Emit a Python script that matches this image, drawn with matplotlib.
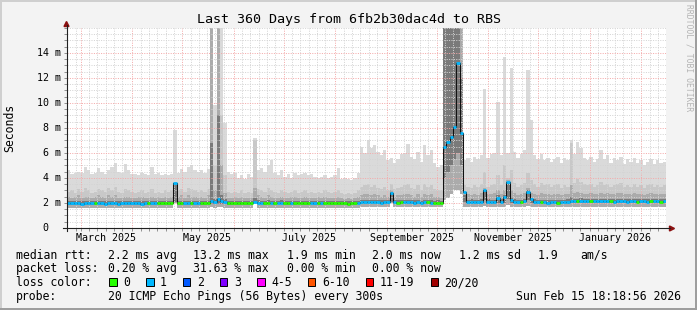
import matplotlib
matplotlib.use("Agg")
import matplotlib.pyplot as plt
import matplotlib.dates as mdates
import matplotlib.transforms as mtransforms
from matplotlib.patches import Rectangle, Polygon
from matplotlib.lines import Line2D
from datetime import datetime, timedelta
import numpy as np

# ---------------- data (ms), 180 bins of 2 days ----------------
start = datetime(2025, 2, 20, 18, 18, 56)
end = datetime(2026, 2, 15, 18, 18, 56)
bin_days = 2

# outer (lightest) smoke envelope top
top = [4.6, 4.3, 4.4, 4.5, 4.4, 4.9, 4.6, 4.3, 4.4, 4.8,
       4.5, 4.3, 4.6, 4.9, 5.2, 4.5, 4.4, 5.1, 4.6, 4.3,
       4.3, 4.2, 4.4, 4.3, 4.2, 4.9, 4.3, 4.4, 4.2, 4.3,
       4.2, 4.3, 7.8, 4.4, 4.7, 4.5, 4.9, 5.0, 4.6, 4.5,
       4.6, 4.4, 4.7, 17.0, 9.8, 17.0, 17.0, 8.4, 4.5, 4.3,
       4.4, 4.0, 4.2, 3.9, 4.3, 4.1, 7.2, 4.6, 4.8, 4.5,
       5.0, 5.4, 4.4, 4.2, 4.6, 4.1, 4.3, 4.0, 4.4, 4.2,
       4.3, 4.4, 4.2, 4.3, 4.1, 4.0, 4.1, 4.2, 4.0, 4.1,
       4.2, 4.8, 3.9, 4.0, 3.9, 3.8, 4.0, 4.4, 6.5, 6.0,
       7.0, 6.4, 6.6, 6.1, 5.8, 6.2, 5.4, 5.6, 5.2, 5.5,
       5.9, 6.0, 6.7, 5.7, 5.5, 6.1, 5.3, 6.6, 5.8, 6.2,
       5.2, 4.9, 5.0, 17.0, 17.0, 17.0, 17.0, 17.0, 17.0, 5.4,
       5.6, 5.3, 5.7, 5.5, 5.8, 11.1, 5.6, 5.9, 6.0, 10.1,
       5.8, 13.7, 6.0, 12.8, 6.1, 5.6, 5.9, 6.2, 12.6, 8.6,
       5.8, 5.5, 5.9, 5.4, 5.6, 5.3, 5.5, 5.7, 5.2, 5.6,
       5.4, 7.0, 5.9, 6.9, 6.4, 5.6, 5.4, 5.7, 5.3, 5.5,
       6.2, 5.5, 5.8, 5.2, 5.6, 5.4, 5.7, 5.1, 5.5, 5.3,
       5.6, 5.2, 5.4, 5.0, 5.3, 5.5, 5.1, 5.4, 5.2, 5.3]

# second smoke envelope
hi2 = [2.9, 3.0, 2.8, 3.1, 2.9, 3.2, 3.0, 2.8, 2.9, 3.1,
       3.0, 2.9, 3.2, 3.0, 3.3, 2.9, 2.8, 3.1, 3.0, 2.9,
       2.8, 2.9, 3.0, 2.8, 2.9, 3.1, 2.8, 2.9, 2.8, 3.0,
       2.9, 3.0, 3.7, 3.0, 3.1, 2.9, 3.2, 3.1, 3.0, 2.9,
       3.0, 2.9, 3.1, 17.0, 5.0, 17.0, 9.0, 4.2, 2.9, 2.8,
       2.9, 2.8, 3.0, 2.8, 2.9, 2.8, 7.0, 3.1, 3.0, 2.9,
       3.2, 3.0, 2.9, 2.8, 3.0, 2.9, 2.8, 2.9, 3.0, 2.8,
       2.9, 3.0, 2.8, 2.9, 2.8, 2.9, 2.8, 3.0, 2.9, 2.8,
       2.9, 3.0, 2.8, 2.7, 2.8, 2.7, 2.8, 3.0, 3.3, 3.4,
       3.5, 3.3, 3.4, 3.2, 3.1, 3.3, 3.0, 3.5, 3.1, 3.2,
       3.3, 3.4, 3.5, 3.2, 3.1, 3.4, 3.0, 3.5, 3.3, 3.4,
       3.1, 3.0, 3.0, 17.0, 17.0, 17.0, 17.0, 17.0, 17.0, 3.4,
       3.3, 3.2, 3.4, 3.3, 3.5, 4.5, 3.3, 3.4, 3.5, 4.2,
       3.4, 5.0, 4.0, 4.6, 3.6, 3.3, 3.4, 3.6, 4.4, 3.8,
       3.5, 3.3, 3.6, 3.4, 3.5, 3.3, 3.4, 3.5, 3.2, 3.4,
       3.3, 6.8, 3.6, 3.9, 3.7, 3.5, 3.4, 3.5, 3.3, 3.4,
       3.7, 3.4, 3.5, 3.3, 3.4, 3.5, 3.6, 3.3, 3.4, 3.3,
       3.5, 3.3, 3.4, 3.2, 3.4, 3.5, 3.3, 3.4, 3.3, 3.4]

# third smoke envelope
hi3 = [2.5, 2.4, 2.5, 2.6, 2.4, 2.5, 2.5, 2.4, 2.5, 2.6,
       2.5, 2.4, 2.6, 2.5, 2.6, 2.4, 2.4, 2.5, 2.5, 2.4,
       2.4, 2.5, 2.5, 2.4, 2.4, 2.5, 2.4, 2.5, 2.4, 2.5,
       2.4, 2.5, 3.6, 2.5, 2.6, 2.4, 2.6, 2.5, 2.5, 2.4,
       2.5, 2.4, 2.6, 17.0, 3.0, 17.0, 5.0, 2.8, 2.4, 2.4,
       2.5, 2.4, 2.5, 2.4, 2.4, 2.4, 3.2, 2.6, 2.5, 2.4,
       2.6, 2.5, 2.4, 2.4, 2.5, 2.4, 2.4, 2.5, 2.5, 2.4,
       2.4, 2.5, 2.4, 2.4, 2.4, 2.5, 2.4, 2.5, 2.4, 2.4,
       2.4, 2.5, 2.4, 2.3, 2.4, 2.3, 2.4, 2.5, 2.6, 2.7,
       2.7, 2.6, 2.7, 2.6, 2.5, 2.6, 2.5, 3.0, 2.5, 2.6,
       2.6, 2.7, 2.7, 2.6, 2.5, 2.7, 2.5, 2.7, 2.6, 2.7,
       2.5, 2.5, 2.4, 17.0, 17.0, 17.0, 17.0, 17.0, 17.0, 2.8,
       2.7, 2.6, 2.7, 2.6, 2.8, 3.2, 2.7, 2.7, 2.8, 3.0,
       2.7, 3.0, 3.8, 3.0, 2.8, 2.6, 2.7, 2.8, 3.2, 2.8,
       2.7, 2.6, 2.8, 2.7, 2.7, 2.6, 2.7, 2.7, 2.6, 2.7,
       2.7, 3.4, 2.8, 2.9, 2.8, 2.7, 2.7, 2.8, 2.7, 2.7,
       2.8, 2.7, 2.8, 2.7, 2.7, 2.8, 2.8, 2.7, 2.7, 2.7,
       2.8, 2.7, 2.7, 2.6, 2.7, 2.8, 2.7, 2.7, 2.7, 2.7]

# innermost (dark) smoke top
hi4 = [2.15, 2.12, 2.15, 2.18, 2.12, 2.15, 2.16, 2.12, 2.14, 2.17,
       2.15, 2.12, 2.17, 2.15, 2.18, 2.12, 2.13, 2.16, 2.15, 2.13,
       2.14, 2.15, 2.13, 2.12, 2.14, 2.15, 2.16, 2.15, 2.13, 2.14,
       2.15, 2.16, 3.6, 2.14, 2.16, 2.13, 2.15, 2.16, 2.15, 2.14,
       2.15, 2.14, 2.17, 6.8, 2.3, 9.0, 2.6, 2.3, 2.15, 2.14,
       2.13, 2.14, 2.15, 2.13, 2.14, 2.16, 2.4, 2.2, 2.18, 2.15,
       2.2, 2.18, 2.16, 2.18, 2.2, 2.16, 2.15, 2.14, 2.16, 2.17,
       2.15, 2.14, 2.16, 2.17, 2.15, 2.14, 2.13, 2.15, 2.17, 2.16,
       2.14, 2.15, 2.13, 2.14, 2.12, 2.13, 2.14, 2.17, 2.22, 2.25,
       2.24, 2.22, 2.25, 2.22, 2.2, 2.23, 2.21, 2.9, 2.22, 2.2,
       2.22, 2.24, 2.21, 2.23, 2.2, 2.22, 2.19, 2.21, 2.23, 2.2,
       2.19, 2.2, 2.17, 17.0, 17.0, 17.0, 17.0, 17.0, 12.0, 2.6,
       2.25, 2.28, 2.24, 2.26, 2.3, 3.0, 2.28, 2.25, 2.27, 2.6,
       2.3, 2.6, 3.7, 2.5, 2.3, 2.25, 2.27, 2.32, 3.0, 2.4,
       2.28, 2.25, 2.24, 2.26, 2.23, 2.25, 2.24, 2.22, 2.26, 2.25,
       2.28, 2.5, 2.35, 2.33, 2.36, 2.34, 2.35, 2.33, 2.32, 2.34,
       2.33, 2.35, 2.32, 2.34, 2.3, 2.33, 2.32, 2.34, 2.3, 2.32,
       2.33, 2.31, 2.34, 2.32, 2.3, 2.32, 2.34, 2.33, 2.31, 2.32]

# median rtt
med = [1.97, 1.96, 1.98, 1.97, 1.95, 1.98, 1.99, 1.96, 1.97, 1.98,
       1.96, 1.95, 1.97, 1.99, 1.96, 1.95, 1.97, 1.98, 1.96, 1.97,
       1.98, 1.97, 1.95, 1.96, 1.98, 1.97, 1.99, 1.98, 1.96, 1.97,
       1.98, 1.99, 3.6, 1.97, 1.98, 1.96, 1.97, 1.99, 1.98, 1.97,
       1.98, 1.97, 1.99, 2.15, 2.05, 2.3, 2.15, 2.05, 1.98, 1.97,
       1.96, 1.97, 1.98, 1.96, 1.97, 1.99, 2.1, 2.03, 2.0, 1.98,
       2.02, 2.0, 1.99, 2.01, 2.03, 1.99, 1.98, 1.97, 1.99, 2.0,
       1.98, 1.97, 1.99, 2.0, 1.98, 1.97, 1.96, 1.98, 2.0, 1.99,
       1.97, 1.98, 1.96, 1.97, 1.95, 1.96, 1.97, 2.0, 2.05, 2.08,
       2.06, 2.04, 2.08, 2.05, 2.03, 2.06, 2.04, 2.8, 2.05, 2.03,
       2.05, 2.07, 2.04, 2.06, 2.03, 2.05, 2.02, 2.04, 2.06, 2.03,
       2.02, 2.03, 2.0, 6.5, 6.9, 7.3, 8.1, 13.2, 7.6, 2.9,
       2.05, 2.08, 2.04, 2.06, 2.1, 3.0, 2.08, 2.05, 2.07, 2.4,
       2.1, 2.5, 3.7, 2.2, 2.1, 2.05, 2.07, 2.12, 2.9, 2.3,
       2.08, 2.05, 2.04, 2.06, 2.03, 2.05, 2.04, 2.02, 2.06, 2.05,
       2.08, 2.12, 2.15, 2.13, 2.16, 2.14, 2.15, 2.13, 2.12, 2.14,
       2.13, 2.15, 2.12, 2.14, 2.1, 2.13, 2.12, 2.14, 2.1, 2.12,
       2.13, 2.11, 2.14, 2.12, 2.1, 2.12, 2.14, 2.13, 2.11, 2.12]

# inner (dark) smoke bottom
lo_in = [1.85, 1.84, 1.86, 1.85, 1.83, 1.86, 1.87, 1.84, 1.85, 1.86,
         1.84, 1.83, 1.85, 1.87, 1.84, 1.83, 1.85, 1.86, 1.84, 1.85,
         1.86, 1.85, 1.83, 1.84, 1.86, 1.85, 1.87, 1.86, 1.84, 1.85,
         1.86, 1.87, 2.05, 1.85, 1.86, 1.84, 1.85, 1.87, 1.86, 1.85,
         1.86, 1.85, 1.87, 1.9, 1.88, 1.95, 1.9, 1.88, 1.86, 1.85,
         1.84, 1.85, 1.86, 1.84, 1.85, 1.87, 2.05, 1.9, 1.88, 1.86,
         1.9, 1.88, 1.87, 1.89, 1.9, 1.87, 1.86, 1.85, 1.87, 1.88,
         1.86, 1.85, 1.87, 1.88, 1.86, 1.85, 1.84, 1.86, 1.88, 1.87,
         1.85, 1.86, 1.84, 1.85, 1.83, 1.84, 1.85, 1.88, 1.92, 1.95,
         1.93, 1.92, 1.95, 1.92, 1.9, 1.93, 1.92, 2.05, 1.92, 1.9,
         1.92, 1.94, 1.91, 1.93, 1.9, 1.92, 1.89, 1.91, 1.93, 1.9,
         1.89, 1.9, 1.88, 4.0, 4.5, 5.0, 5.5, 6.0, 5.0, 2.1,
         1.92, 1.95, 1.91, 1.93, 1.97, 2.2, 1.95, 1.92, 1.94, 2.0,
         1.97, 2.0, 2.3, 2.0, 1.97, 1.92, 1.94, 1.99, 2.2, 2.0,
         1.95, 1.92, 1.91, 1.93, 1.9, 1.92, 1.91, 1.89, 1.93, 1.92,
         1.95, 1.99, 2.02, 2.0, 2.03, 2.01, 2.02, 2.0, 1.99, 2.01,
         2.0, 2.02, 1.99, 2.01, 1.97, 2.0, 1.99, 2.01, 1.97, 1.99,
         2.0, 1.98, 2.01, 1.99, 1.97, 1.99, 2.01, 2.0, 1.98, 1.99]

# outer smoke bottom (min)
low = [1.62, 1.63, 1.62, 1.61, 1.62, 1.63, 1.62, 1.62, 1.61, 1.62,
       1.62, 1.63, 1.62, 1.62, 1.61, 1.62, 1.63, 1.62, 1.62, 1.61,
       1.62, 1.62, 1.63, 1.62, 1.62, 1.61, 1.62, 1.63, 1.62, 1.62,
       1.62, 1.63, 2.0, 1.62, 1.62, 1.63, 1.62, 1.61, 1.62, 1.62,
       1.63, 1.62, 1.62, 1.64, 1.63, 1.65, 1.64, 1.63, 1.62, 1.62,
       1.62, 1.61, 1.62, 1.62, 1.63, 1.62, 2.0, 1.63, 1.62, 1.62,
       1.63, 1.62, 1.62, 1.63, 1.62, 1.62, 1.61, 1.62, 1.62, 1.63,
       1.62, 1.62, 1.63, 1.62, 1.62, 1.61, 1.62, 1.62, 1.63, 1.62,
       1.62, 1.62, 1.61, 1.62, 1.61, 1.62, 1.62, 1.63, 1.65, 1.66,
       1.66, 1.65, 1.66, 1.65, 1.66, 1.66, 1.65, 2.0, 1.66, 1.65,
       1.66, 1.66, 1.65, 1.66, 1.65, 1.66, 1.65, 1.66, 1.66, 1.65,
       1.65, 1.66, 1.65, 2.2, 2.4, 2.7, 3.0, 3.0, 2.7, 1.7,
       1.68, 1.68, 1.67, 1.68, 1.68, 1.75, 1.68, 1.67, 1.68, 1.7,
       1.68, 1.7, 1.8, 1.7, 1.68, 1.68, 1.67, 1.68, 1.75, 1.7,
       1.68, 1.67, 1.68, 1.68, 1.67, 1.68, 1.68, 1.67, 1.68, 1.68,
       1.68, 1.7, 1.7, 1.7, 1.71, 1.7, 1.7, 1.71, 1.7, 1.7,
       1.7, 1.71, 1.7, 1.7, 1.69, 1.7, 1.7, 1.71, 1.69, 1.7,
       1.7, 1.7, 1.71, 1.7, 1.69, 1.7, 1.71, 1.7, 1.7, 1.7]

# lost pings per bin (0 -> green, 1 -> cyan)
loss = [1, 1, 1, 1, 1, 1, 1, 1, 0, 1,
        1, 1, 1, 1, 1, 1, 1, 1, 1, 1,
        1, 1, 1, 1, 0, 1, 1, 0, 0, 0,
        0, 0, 1, 0, 0, 1, 1, 0, 1, 1,
        0, 0, 0, 1, 1, 1, 1, 1, 0, 0,
        0, 0, 0, 0, 0, 0, 1, 1, 1, 0,
        0, 1, 0, 1, 1, 0, 0, 1, 0, 0,
        0, 0, 0, 1, 1, 0, 1, 0, 0, 0,
        0, 0, 0, 0, 0, 0, 0, 1, 1, 1,
        1, 1, 1, 1, 1, 1, 1, 1, 1, 0,
        0, 1, 1, 1, 1, 1, 1, 1, 0, 1,
        0, 0, 0, 1, 1, 1, 1, 1, 1, 1,
        1, 1, 1, 1, 1, 1, 1, 1, 1, 1,
        1, 1, 1, 1, 1, 1, 0, 1, 1, 1,
        1, 1, 0, 1, 1, 1, 1, 0, 1, 1,
        1, 1, 1, 0, 1, 1, 1, 0, 1, 1,
        1, 1, 1, 0, 1, 1, 1, 1, 1, 1,
        1, 0, 1, 1, 1, 0, 1, 1, 0, 1]

loss_labels = ["0", "1", "2", "3", "4-5", "6-10", "11-19", "20/20"]
loss_colors = ["#26ff00", "#00b8ff", "#0059ff", "#7e00ff", "#ff00ff",
               "#ff5500", "#ff0000", "#a00000"]

y_ticks = [0, 2, 4, 6, 8, 10, 12, 14]
month_labels = ["March 2025", "May 2025", "July 2025", "September 2025",
                "November 2025", "January 2026"]
month_label_dates = [datetime(2025, 3, 16), datetime(2025, 5, 16), datetime(2025, 7, 16),
                     datetime(2025, 9, 16), datetime(2025, 11, 16), datetime(2026, 1, 16)]

title = "Last 360 Days from 6fb2b30dac4d to RBS"
legend_rtt = ["median rtt:", "2.2 ms avg", "13.2 ms max", "1.9 ms min",
              "2.0 ms now", "1.2 ms sd", "1.9", "am/s"]
legend_loss = ["packet loss:", "0.20 % avg", "31.63 % max", "0.00 % min", "0.00 % now"]
probe_text = "20 ICMP Echo Pings (56 Bytes) every 300s"
stamp_text = "Sun Feb 15 18:18:56 2026"

# ---------------- layout ----------------
W, H = 697, 310
MONO = "DejaVu Sans Mono"
plt.rcParams["font.family"] = [MONO, "DejaVu Sans"]

fig = plt.figure(figsize=(6.9701, 3.1001), dpi=100)
fig.patch.set_facecolor("#f3f3f3")


def fx(x):
    return x / W


def fy(y):
    return 1 - y / H


PL, PR, PT, PB = 67, 666, 28, 228
ax = fig.add_axes([fx(PL), fy(PB), (PR - PL) / W, (PB - PT) / H])
ax.set_facecolor("white")
for s in ax.spines.values():
    s.set_visible(False)

n = len(med)
edges = mdates.date2num([start + timedelta(days=bin_days * k) for k in range(n + 1)])

ax.stairs(top, edges, baseline=low, fill=True, color="#dadada", lw=0, zorder=1.0)
ax.stairs(hi2, edges, baseline=low, fill=True, color="#c8c8c8", lw=0, zorder=1.1)
ax.stairs(hi3, edges, baseline=low, fill=True, color="#ababab", lw=0, zorder=1.2)
ax.stairs(hi4, edges, baseline=lo_in, fill=True, color="#7a7a7a", lw=0, zorder=1.3)
ax.stairs(med, edges, baseline=None, color="#111111", lw=0.75, zorder=4)
ax.hlines(med, edges[:-1], edges[1:], colors=[loss_colors[l] for l in loss],
          lw=2.0, zorder=5)

ax.set_xlim(mdates.date2num(start), mdates.date2num(end))
ax.set_ylim(0, 16)

# grid
months = []
d = datetime(2025, 3, 1)
while d < end:
    months.append(d)
    d = datetime(d.year + (d.month // 12), d.month % 12 + 1, 1)
minor_days = []
d = datetime(2025, 2, 1)
while d < end:
    for day in (6, 11, 16, 21, 26):
        md = datetime(d.year, d.month, day)
        if start < md < end:
            minor_days.append(md)
    d = datetime(d.year + (d.month // 12), d.month % 12 + 1, 1)

ax.set_xticks(mdates.date2num(months))
ax.set_xticks(mdates.date2num(minor_days), minor=True)
ax.set_yticks(y_ticks)
ax.set_yticks(np.arange(0.5, 16.01, 0.5), minor=True)
ax.set_axisbelow(False)
ax.grid(which="minor", color="#d4d4d4", linestyle=(0, (1, 1.4)), lw=0.72)
ax.grid(which="major", color="#f4aaaa", linestyle=(0, (1, 1.4)), lw=0.72)
ax.tick_params(which="both", direction="out", length=2.2, width=0.7, color="#909090",
               labelleft=False, labelbottom=False)

# axis lines and arrows
fig.add_artist(Line2D([fx(63), fx(670)], [fy(228.5), fy(228.5)], color="#202020",
                      lw=0.8, transform=fig.transFigure))
fig.add_artist(Line2D([fx(66.5), fx(66.5)], [fy(231), fy(25)], color="#202020",
                      lw=0.8, transform=fig.transFigure))
fig.add_artist(Polygon([(fx(64), fy(26.5)), (fx(69), fy(26.5)), (fx(66.5), fy(21.5))],
                       closed=True, color="#8b1010", transform=fig.transFigure))
fig.add_artist(Polygon([(fx(669.5), fy(226)), (fx(669.5), fy(231)), (fx(674.5), fy(228.5))],
                       closed=True, color="#8b1010", transform=fig.transFigure))

# frame
fig.add_artist(Rectangle((0, fy(2)), 1, 2 / H, color="#cfcfcf", transform=fig.transFigure, lw=0))
fig.add_artist(Rectangle((0, 0), 2 / W, 1, color="#cfcfcf", transform=fig.transFigure, lw=0))
fig.add_artist(Rectangle((0, 0), 1, 2 / H, color="#9e9e9e", transform=fig.transFigure, lw=0))
fig.add_artist(Rectangle((fx(695), 0), 2 / W, 1, color="#9e9e9e", transform=fig.transFigure, lw=0))

# texts
fig.text(fx(348.5), fy(19), title, ha="center", va="center", fontsize=9.6)
fig.text(fx(10), fy(128), "Seconds", rotation=90, ha="center", va="center", fontsize=8.3)
fig.text(fx(688.5), fy(4), "RRDTOOL / TOBI OETIKER", rotation=270, ha="center", va="top",
         fontsize=5.8, color="#b4b4b4")

ytr = mtransforms.blended_transform_factory(fig.transFigure, ax.transData)
for v in y_ticks:
    if v == 0:
        fig.text(fx(48.5), v, "0", ha="right", va="center", fontsize=7.2, transform=ytr)
    else:
        fig.text(fx(60.5), v, f"{v} m", ha="right", va="center", fontsize=7.2, transform=ytr)

xtr = mtransforms.blended_transform_factory(ax.transData, fig.transFigure)
for lab, dt in zip(month_labels, month_label_dates):
    ax.text(mdates.date2num(dt), fy(238), lab, ha="center", va="center", fontsize=7.2,
            transform=xtr)

LF = 8.3
rtt_x = [16, 107.6, 193.3, 286.7, 372.4, 459, 537.8, 580]
for t, x in zip(legend_rtt, rtt_x):
    fig.text(fx(x), fy(255), t, ha="left", va="center", fontsize=LF)
loss_x = [16, 107.6, 193.3, 286.7, 372.4]
for t, x in zip(legend_loss, loss_x):
    fig.text(fx(x), fy(268.5), t, ha="left", va="center", fontsize=LF)

fig.text(fx(16), fy(282.5), "loss color:", ha="left", va="center", fontsize=LF)
box_x = [109, 146, 182.5, 219.5, 257, 307.5, 365.5, 430.5]
lab_x = [123, 160, 197, 234, 271, 322, 380, 444.4]
for lab, c, bx, lx in zip(loss_labels, loss_colors, box_x, lab_x):
    fig.add_artist(Rectangle((fx(bx), fy(286.5)), 7.5 / W, 8.5 / H, facecolor=c,
                             edgecolor="black", lw=0.7, transform=fig.transFigure))
    fig.text(fx(lx), fy(282.5), lab, ha="left", va="center", fontsize=LF)

fig.text(fx(16), fy(296.5), "probe:", ha="left", va="center", fontsize=LF)
fig.text(fx(107.6), fy(296.5), probe_text, ha="left", va="center", fontsize=LF)
fig.text(fx(681), fy(296.5), stamp_text, ha="right", va="center", fontsize=LF)

fig.savefig("out.png", dpi=100, facecolor=fig.get_facecolor())
